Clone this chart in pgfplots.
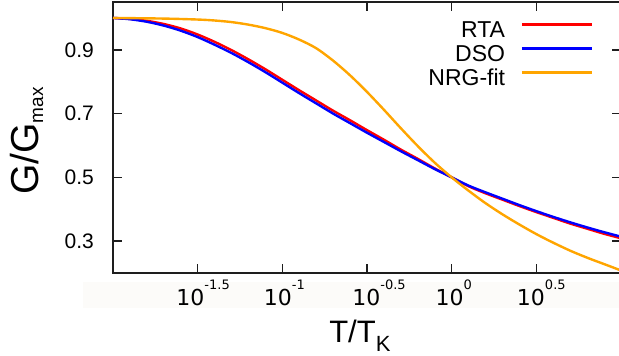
\documentclass[border=0pt]{standalone}
\usepackage{fontspec}
\setmainfont{Liberation Sans}
\newfontfamily\dejavu{DejaVu Sans}
\usepackage{pgfplots}
\usepackage{pgfplotstable}
\pgfplotsset{compat=1.18}
\definecolor{myorange}{RGB}{255,165,0}
\definecolor{myred}{RGB}{255,0,0}
\definecolor{myblue}{RGB}{0,0,255}
\definecolor{axcol}{RGB}{30,30,30}
\definecolor{band}{RGB}{252,251,249}
\newcommand{\xl}[2]{\hspace*{#1}{\dejavu 10\raisebox{17pt}{\fontsize{13}{13}\selectfont #2}}}

\pgfplotstableread{
x y
-2.0 1.000
-1.9 0.997
-1.8 0.991
-1.7 0.981
-1.6 0.967
-1.5 0.948
-1.4 0.925
-1.3 0.899
-1.2 0.870
-1.1 0.839
-1.0 0.806
-0.9 0.773
-0.8 0.741
-0.7 0.709
-0.6 0.679
-0.5 0.648
-0.4 0.618
-0.3 0.587
-0.2 0.558
-0.1 0.528
0.0 0.500
0.1 0.472
0.2 0.450
0.3 0.430
0.4 0.410
0.5 0.391
0.6 0.373
0.7 0.355
0.8 0.339
0.9 0.323
1.0 0.309
}\rta

\pgfplotstableread{
x y
-2.0 1.000
-1.9 0.996
-1.8 0.988
-1.7 0.976
-1.6 0.960
-1.5 0.940
-1.4 0.916
-1.3 0.890
-1.2 0.861
-1.1 0.830
-1.0 0.797
-0.9 0.764
-0.8 0.732
-0.7 0.700
-0.6 0.670
-0.5 0.640
-0.4 0.611
-0.3 0.582
-0.2 0.554
-0.1 0.526
0.0 0.500
0.1 0.474
0.2 0.453
0.3 0.433
0.4 0.413
0.5 0.394
0.6 0.376
0.7 0.359
0.8 0.343
0.9 0.328
1.0 0.314
}\dso

\pgfplotstableread{
x y
-2.0 1.000
-1.7 0.998
-1.5 0.995
-1.4 0.992
-1.3 0.987
-1.2 0.979
-1.1 0.968
-1.0 0.953
-0.9 0.932
-0.8 0.905
-0.7 0.866
-0.6 0.820
-0.5 0.768
-0.4 0.712
-0.3 0.654
-0.2 0.598
-0.1 0.546
0.0 0.500
0.1 0.458
0.2 0.419
0.3 0.384
0.4 0.352
0.5 0.322
0.6 0.295
0.7 0.270
0.8 0.248
0.9 0.228
1.0 0.208
}\nrg

\begin{document}
\begin{tikzpicture}
\fill[band] (-30pt,-35pt) rectangle (506pt,-9pt);
\begin{axis}[
 at={(0,0)}, anchor=south west,
 scale only axis, width=508pt, height=271pt,
 xmin=-2, xmax=1, ymin=0.2, ymax=1.05,
 xtick={-1.5,-1,-0.5,0,0.5},
 xticklabels={\xl{11pt}{-1.5},\xl{4pt}{-1},\xl{24pt}{-0.5},\xl{4pt}{0},\xl{10pt}{0.5}},
 ytick={0.3,0.5,0.7,0.9},
 yticklabels={0.3,0.5,0.7,0.9},
 tick align=inside,
 major tick length=9pt,
 tick style={line width=1.6pt, color=axcol},
 axis line style={line width=1.6pt, color=axcol},
 xticklabel style={anchor=base, inner sep=0pt, yshift=-33pt, font=\fontsize{22}{22}\selectfont},
 yticklabel style={anchor=east, inner sep=0pt, xshift=-19pt, font=\fontsize{21}{21}\selectfont},
 ylabel={G/G\raisebox{-5pt}{\fontsize{19}{19}\selectfont max}},
 ylabel style={at={(axis description cs:-0.1476,0.487)}, anchor=base, inner sep=0pt, font=\fontsize{39}{39}\selectfont},
 xlabel={T/T\raisebox{-9pt}{\fontsize{22}{22}\selectfont K}},
 xlabel style={at={(axis description cs:0.486,-0.2583)}, anchor=base, inner sep=0pt, font=\fontsize{31}{31}\selectfont},
 legend style={draw=none, fill=none, at={(axis description cs:0.945,0.932)}, anchor=north east, inner sep=0pt, outer sep=0pt, font=\fontsize{23}{23}\selectfont, nodes={inner sep=1.5pt, text height=16pt, text depth=5pt}, row sep=0pt, column sep=14pt},
 legend plot pos=right,
 legend cell align=right,
 legend image code/.code={\draw[#1, line width=2.5pt] (0pt,8pt) -- (70pt,8pt);},
]
\addplot[myred, line width=2.4pt, smooth, tension=0.5] table[x=x,y=y] {\rta};
\addlegendentry{RTA}
\addplot[myblue, line width=2.4pt, smooth, tension=0.5] table[x=x,y=y] {\dso};
\addlegendentry{DSO}
\addplot[myorange, line width=2.4pt, smooth, tension=0.5] table[x=x,y=y] {\nrg};
\addlegendentry{NRG-fit}
\end{axis}
\pgfresetboundingbox
\path[use as bounding box] (-113pt,-83pt) rectangle (506pt,273pt);
\end{tikzpicture}
\end{document}
